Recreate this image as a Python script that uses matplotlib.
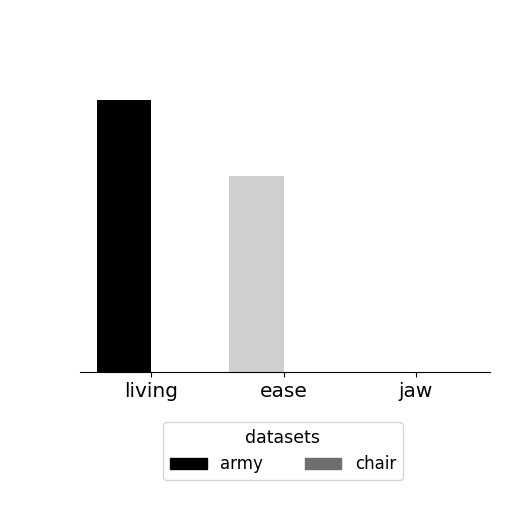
import matplotlib
matplotlib.use("Agg")
import matplotlib.pyplot as plt
import numpy as np
from matplotlib.patches import Patch

categories = ["living", "ease", "jaw"]
army = [10.0, 7.2, 0.0]
chair = [0.0, 0.0, 0.0]
army_colors = ["#000000", "#cfcfcf", "#000000"]
chair_color = "#6e6e6e"
series_names = ["army", "chair"]
legend_title = "datasets"

fig = plt.figure(figsize=(5.12, 5.12), dpi=100)
ax = fig.add_axes([80/512, 1-372/512, 410/512, (372-86)/512])

x = np.arange(len(categories))
w = 0.41
ax.bar(x - w/2, army, width=w, color=army_colors, label=series_names[0])
ax.bar(x + w/2, chair, width=w, color=chair_color, label=series_names[1])

ax.set_xlim(-0.54, 2.56)
ax.set_ylim(0, max(army) * 1.05)
ax.set_xticks(x)
ax.set_xticklabels(categories, fontsize=14.5)
ax.tick_params(axis="x", pad=4)
ax.set_yticks([])
for s in ["left", "right", "top"]:
    ax.spines[s].set_visible(False)

handles = [Patch(color="#000000"), Patch(color=chair_color)]
fig.legend(handles, series_names, title=legend_title, loc="upper center",
           bbox_to_anchor=(283/512, 1-414/512), ncol=2, fontsize=12,
           title_fontsize=12.5, handlelength=2.2, columnspacing=2.5)

fig.savefig("out.png", dpi=100)
